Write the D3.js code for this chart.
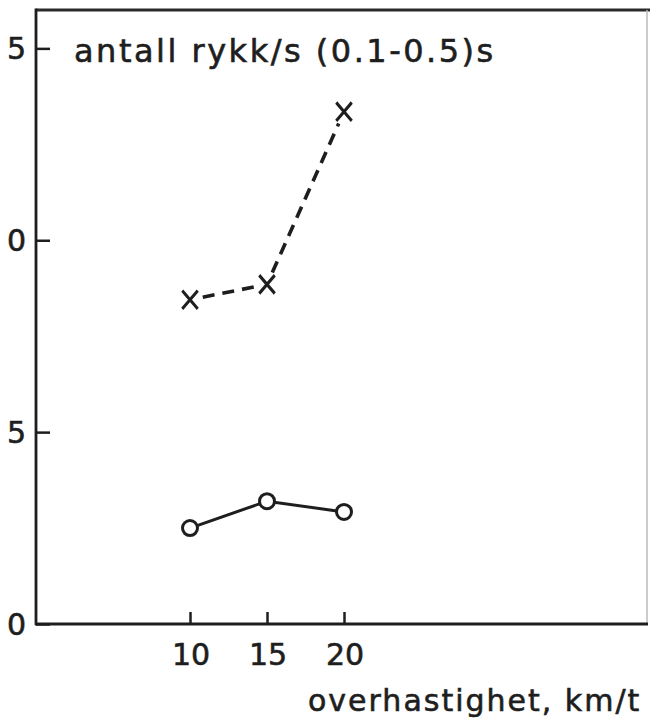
<!DOCTYPE html>
<html>
<head>
<meta charset="utf-8">
<script src="https://cdn.jsdelivr.net/npm/d3@7"></script>
<style>
  body { margin: 0; background: #fff; }
  svg { display: block; }
  text { font-family: "DejaVu Sans", sans-serif; fill: #1e1e1e; stroke: #1e1e1e; stroke-width: 0.6px; }
</style>
</head>
<body>
<svg width="650" height="722"></svg>
<script>
// overhastighet (km/t)
const speeds = [10, 15, 20];
// antall rykk/s (0.1-0.5)s
const jerkCount = [8.45, 8.85, 13.35];
// lower series (circles)
const lowerSeries = [2.5, 3.2, 2.92];

const xTicks = [10, 15, 20];
const yTicks = [0, 5, 10, 15];
// left digits are cut off in the scan
const yTickLabels = ["0", "5", "0", "5"];

const svg = d3.select("svg");
const ink = "#1e1e1e";

// scales
const x = d3.scaleLinear().domain([0, 40]).range([36, 652]);
const y = d3.scaleLinear().domain([0, 16]).range([624, 10]);

// frame: top + right (faint)
svg.append("line")
  .attr("x1", x(0)).attr("x2", 650)
  .attr("y1", y(16)).attr("y2", y(16))
  .attr("stroke", "#2a2a2a").attr("stroke-width", 3);
svg.append("line")
  .attr("x1", 647).attr("x2", 647)
  .attr("y1", y(16)).attr("y2", y(0))
  .attr("stroke", "#bbb").attr("stroke-width", 1.5);

// y-axis with inward ticks
const yAxis = svg.append("g")
  .attr("transform", "translate(" + x(0) + ",0)")
  .call(d3.axisRight(y).tickValues(yTicks).tickSize(14).tickFormat(""));
yAxis.select(".domain").remove();
yAxis.selectAll(".tick line").attr("stroke", ink).attr("stroke-width", 2.5);
svg.append("line")
  .attr("x1", x(0)).attr("x2", x(0))
  .attr("y1", y(16) - 1.5).attr("y2", y(0) + 1)
  .attr("stroke", ink).attr("stroke-width", 2.8);

svg.append("g").selectAll("text")
  .data(yTicks)
  .enter().append("text")
  .attr("x", 26)
  .attr("y", d => y(d))
  .attr("dy", "0.36em")
  .attr("text-anchor", "end")
  .attr("font-size", 30)
  .text((d, i) => yTickLabels[i]);

// x-axis with inward ticks
const xAxis = svg.append("g")
  .attr("transform", "translate(0," + y(0) + ")")
  .call(d3.axisTop(x).tickValues(xTicks).tickSize(12).tickFormat(""));
xAxis.select(".domain").remove();
xAxis.selectAll(".tick line").attr("stroke", ink).attr("stroke-width", 2.5);
svg.append("line")
  .attr("x1", x(0) - 1).attr("x2", 648)
  .attr("y1", y(0)).attr("y2", y(0))
  .attr("stroke", ink).attr("stroke-width", 2.8);

svg.append("g").selectAll("text")
  .data(xTicks)
  .enter().append("text")
  .attr("x", d => x(d) + 1)
  .attr("y", 665)
  .attr("text-anchor", "middle")
  .attr("font-size", 30)
  .text(d => d);

// titles
svg.append("text")
  .attr("x", 74).attr("y", 62)
  .attr("font-size", 32)
  .attr("letter-spacing", 2.5)
  .text("antall rykk/s (0.1-0.5)s");

svg.append("text")
  .attr("x", 308).attr("y", 711)
  .attr("font-size", 30)
  .attr("letter-spacing", 2)
  .text("overhastighet, km/t");

// dashed series: segments stop short of the markers
const crossPts = speeds.map((s, i) => [x(s), y(jerkCount[i])]);
const gap = 13;
for (let i = 0; i < crossPts.length - 1; i++) {
  const [x1, y1] = crossPts[i], [x2, y2] = crossPts[i + 1];
  const len = Math.hypot(x2 - x1, y2 - y1);
  const ux = (x2 - x1) / len, uy = (y2 - y1) / len;
  svg.append("line")
    .attr("x1", x1 + ux * gap).attr("y1", y1 + uy * gap)
    .attr("x2", x2 - ux * gap).attr("y2", y2 - uy * gap)
    .attr("stroke", ink).attr("stroke-width", 3.6)
    .attr("stroke-dasharray", "12,8");
}

svg.append("g").selectAll("path")
  .data(speeds)
  .enter().append("path")
  .attr("transform", (d, i) => "translate(" + x(d) + "," + y(jerkCount[i]) + ") scale(0.85,1)")
  .attr("d", d3.symbol(d3.symbolX, 220)())
  .attr("fill", "none")
  .attr("stroke", ink)
  .attr("stroke-width", 3.4);

// solid series with open circles
const line = d3.line()
  .x((d, i) => x(speeds[i]))
  .y(d => y(d));
svg.append("path")
  .datum(lowerSeries)
  .attr("d", line)
  .attr("fill", "none")
  .attr("stroke", ink)
  .attr("stroke-width", 3);

svg.append("g").selectAll("circle")
  .data(lowerSeries)
  .enter().append("circle")
  .attr("cx", (d, i) => x(speeds[i]))
  .attr("cy", d => y(d))
  .attr("r", 7.5)
  .attr("fill", "#fff")
  .attr("stroke", ink)
  .attr("stroke-width", 3);
</script>
</body>
</html>
